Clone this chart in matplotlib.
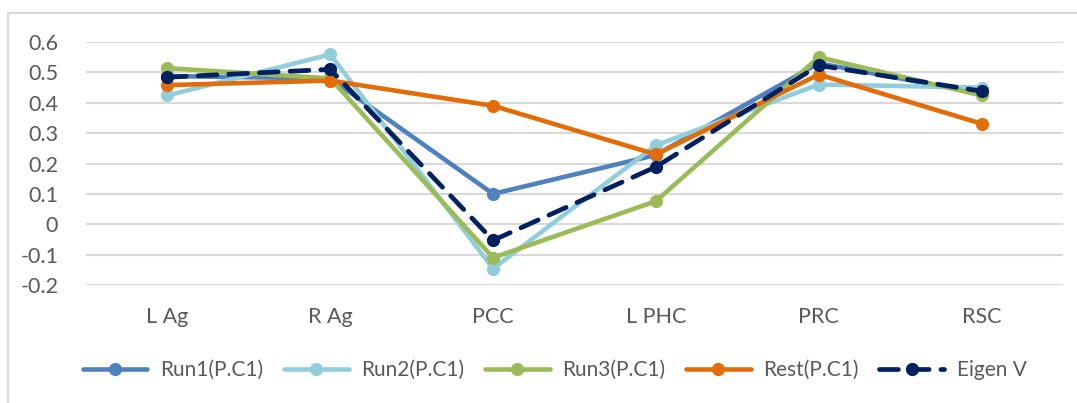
import matplotlib
matplotlib.use("Agg")
import matplotlib.pyplot as plt
from matplotlib.patches import Rectangle

categories = ["L Ag", "R Ag", "PCC", "L PHC", "PRC", "RSC"]
run1 = [0.488, 0.480, 0.100, 0.228, 0.530, 0.430]
run2 = [0.424, 0.559, -0.146, 0.260, 0.460, 0.450]
run3 = [0.514, 0.480, -0.110, 0.076, 0.550, 0.424]
rest = [0.458, 0.473, 0.390, 0.230, 0.493, 0.331]
eigen = [0.484, 0.510, -0.053, 0.189, 0.523, 0.438]
yticks = [-0.2, -0.1, 0, 0.1, 0.2, 0.3, 0.4, 0.5, 0.6]
ytick_labels = ["-0.2", "-0.1", "0", "0.1", "0.2", "0.3", "0.4", "0.5", "0.6"]

plt.rcParams['font.family'] = ['Lato', 'DejaVu Sans']

fig = plt.figure(figsize=(10.77, 4.03), dpi=100)
ax = fig.add_axes([86/1077, 118/403, (1063-86)/1077, (285-42)/403])

# outer chart border
fig.patches.append(Rectangle((8/1077, -0.05), 1.2, 1.05 - 13/403, transform=fig.transFigure,
                             fill=False, edgecolor="#D9D9D9", linewidth=1.5))

x = list(range(len(categories)))
lw = 3.3
ms = 8.5
ax.plot(x, run1, color="#4F81BD", lw=lw, marker="o", ms=ms, label="Run1(P.C1)", solid_capstyle="round")
ax.plot(x, run2, color="#92CDDC", lw=lw, marker="o", ms=ms, label="Run2(P.C1)", solid_capstyle="round")
ax.plot(x, run3, color="#9BBB59", lw=lw, marker="o", ms=ms, label="Run3(P.C1)", solid_capstyle="round")
ax.plot(x, rest, color="#E36C09", lw=lw, marker="o", ms=ms, label="Rest(P.C1)", solid_capstyle="round")
ax.plot(x, eigen, color="#002060", lw=3.4, marker="o", ms=ms, label="Eigen V",
        dashes=(4.0, 2.5), dash_capstyle="round")

ax.set_xlim(-0.5, 5.5)
ax.set_ylim(-0.2, 0.6)
ax.set_yticks(yticks)
ax.set_yticklabels(ytick_labels)
ax.set_xticks(x)
ax.set_xticklabels(categories)
ax.grid(axis="y", color="#D9D9D9", linewidth=1.5)
ax.set_axisbelow(True)
for s in ax.spines.values():
    s.set_visible(False)
ax.tick_params(axis="both", length=0, labelsize=15.5, colors="#595959")
ax.tick_params(axis="y", pad=20)
ax.tick_params(axis="x", pad=16)

fig.legend(loc="center", bbox_to_anchor=(0.515, 33/403), ncol=5, frameon=False,
           fontsize=15, labelcolor="#595959", handlelength=3.1, columnspacing=1.0,
           handletextpad=0.6)

fig.savefig("out.png", dpi=100)
